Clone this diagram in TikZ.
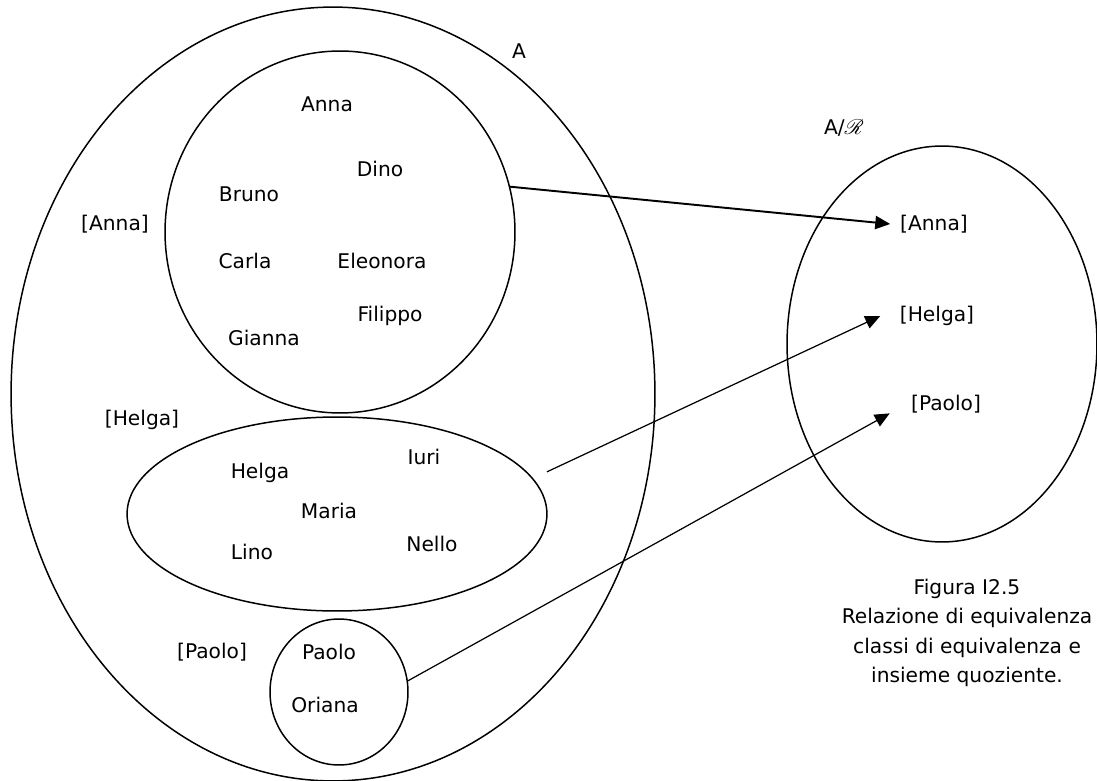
\documentclass[tikz,border=0pt]{standalone}
\usepackage{fontspec}
\setmainfont{DejaVu Sans}
\usepackage{amsmath}
\usepackage{mathrsfs}
\usetikzlibrary{shapes,arrows,positioning,arrows.meta}

\begin{document}
\begin{tikzpicture}[x=0.02cm, y=-0.02cm,
    font=\fontsize{11.5}{13}\selectfont,
    set/.style={draw, ellipse, line width=0.85pt, inner sep=0pt, outer sep=0pt},
    elem/.style={inner sep=0pt},
    link/.style={-{Triangle[length=8.5pt,width=7.5pt]}, line width=0.7pt}]
    \useasboundingbox (0,0) rectangle (1097,780);

    % sets (1 unit = 1px = 0.02cm, y downwards)
    \node[set, minimum width=12.88cm, minimum height=15.48cm] (setA) at (333,394) {}; % A
    \node[set, minimum width=7.0cm,   minimum height=7.24cm]  (annaset) at (340,232) {}; % [Anna]
    \node[set, minimum width=8.4cm,   minimum height=3.88cm]  (helgaset) at (337,514) {}; % [Helga]
    \node[set, minimum width=2.76cm,  minimum height=2.92cm]  (paoloset) at (339,692) {}; % [Paolo]
    \node[set, minimum width=6.2cm,   minimum height=7.92cm]  (quot) at (942,344) {}; % A/R

    % set names
    \node[elem] (lblA) at (519,51) {A};
    \node[elem] (lblquot) at (844,128) {A/$\mathscr{R}$};
    \node[elem] (lanna) at (115,224) {[Anna]};
    \node[elem] (lhelga) at (142,420) {[Helga]};
    \node[elem] (lpaolo) at (212,652) {[Paolo]};

    % class of Anna
    \node[elem] (anna) at (327,104) {Anna};
    \node[elem] (dino) at (380,169) {Dino};
    \node[elem] (bruno) at (249,194) {Bruno};
    \node[elem] (carla) at (245,261) {Carla};
    \node[elem] (eleonora) at (382,261) {Eleonora};
    \node[elem] (filippo) at (390,316) {Filippo};
    \node[elem] (gianna) at (264,338) {Gianna};

    % class of Helga
    \node[elem] (helga) at (260,473) {Helga};
    \node[elem] (iuri) at (424,457) {Iuri};
    \node[elem] (maria) at (329,511) {Maria};
    \node[elem] (lino) at (252,552) {Lino};
    \node[elem] (nello) at (432,544) {Nello};

    % class of Paolo
    \node[elem] (paolo) at (329,652) {Paolo};
    \node[elem] (oriana) at (325,705) {Oriana};

    % quotient set
    \node[elem] (qanna) at (934,224) {[Anna]};
    \node[elem] (qhelga) at (937,316) {[Helga]};
    \node[elem] (qpaolo) at (946,404) {[Paolo]};

    % maps to the classes
    \draw[link, line width=1.1pt] (annaset.15) -- ([xshift=-5.5pt]qanna.west);
    \draw[link] ([yshift=24pt]helgaset.east) -- ([xshift=-11pt]qhelga.west);
    \draw[link] (paoloset.9) -- ([xshift=-12pt]qpaolo.south west);

    % caption
    \node[align=center, font=\fontsize{11.5}{16.8}\selectfont] (caption) at (967,633)
        {Figura I2.5\\Relazione di equivalenza\\classi di equivalenza e\\insieme quoziente.};
\end{tikzpicture}
\end{document}
